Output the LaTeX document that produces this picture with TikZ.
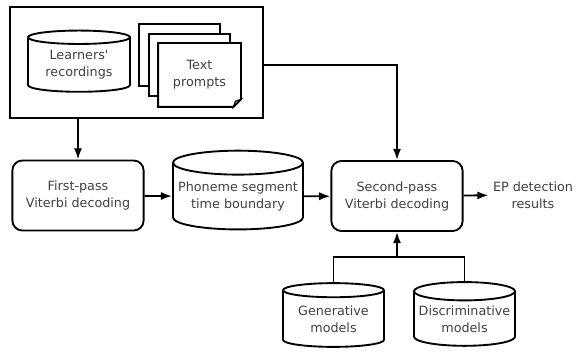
\documentclass[tikz,border=0pt]{standalone}
\usepackage{fontspec}
\setmainfont{DejaVu Sans}
\usetikzlibrary{arrows.meta,positioning,shapes.geometric}

\begin{document}
\begin{tikzpicture}[x=0.8pt, y=-0.8pt,
    txt/.style={font=\fontsize{10.2}{13.6}\selectfont, text=black!75, align=center},
    box/.style={txt, draw, rounded corners=8pt, line width=1.5pt, minimum width=105pt, minimum height=56pt},
    db/.style={txt, draw, cylinder, shape border rotate=90, aspect=0.2, line width=1.5pt, inner sep=0pt},
    doc/.style={fill=white, line width=1.5pt, minimum width=64.8pt, minimum height=49.6pt},
    arr/.style={-{Latex[length=9pt,width=6.5pt]}, line width=1.5pt},
]
\useasboundingbox (0,0) rectangle (578,351);

% Inputs
\node[draw, line width=1.5pt, minimum width=202.4pt, minimum height=88.8pt] (inputs) at (136.5,62.5) {};
\node[db, minimum width=81.6pt, minimum height=49pt] (rec) at (79,65) {Learners\textquotesingle\\recordings};
\node[doc, draw] (doc1) at (179.5,55) {};
\node[doc, draw] (doc2) at (189.5,65) {};
\node[doc, txt] (prompts) at (199.5,75) {Text\\prompts};
\draw[line width=1.5pt] (prompts.north west) -- (prompts.north east) -- ([yshift=6pt]prompts.south east)
    -- ([xshift=-6pt]prompts.south east) -- (prompts.south west) -- cycle;
\draw[line width=1pt, fill=black!35] ([yshift=6pt]prompts.south east) -- ([xshift=-6pt]prompts.south east)
    -- ([xshift=-4.5pt,yshift=4.5pt]prompts.south east) -- cycle;

% Decoding
\node[box] (first) at (78,195.5) {First-pass\\Viterbi decoding};
\node[db, minimum width=104pt, minimum height=63pt] (phone) at (238,196.5) {Phoneme segment\\time boundary};
\node[box] (second) at (397,196) {Second-pass\\Viterbi decoding};
\node[txt] (result) at (533,195) {EP detection\\results};

% Models
\node[db, minimum width=80.8pt, minimum height=51pt] (gen) at (333.5,319) {Generative\\models};
\node[db, minimum width=80.8pt, minimum height=51pt] (disc) at (464.5,319) {Discriminative\\models};
\coordinate (join) at (397,257);

% Arrows
\draw[arr] (first.north |- inputs.south) -- (first.north);
\draw[arr] (inputs.east |- 0,65) -| (second.north);
\draw[arr] (first) -- (phone);
\draw[arr] (phone) -- (second);
\draw[arr] (second) -- (result);
\draw[line width=1.5pt] (gen.north) |- (join) -| (disc.north);
\draw[arr] (join) -- (second.south);
\end{tikzpicture}
\end{document}
